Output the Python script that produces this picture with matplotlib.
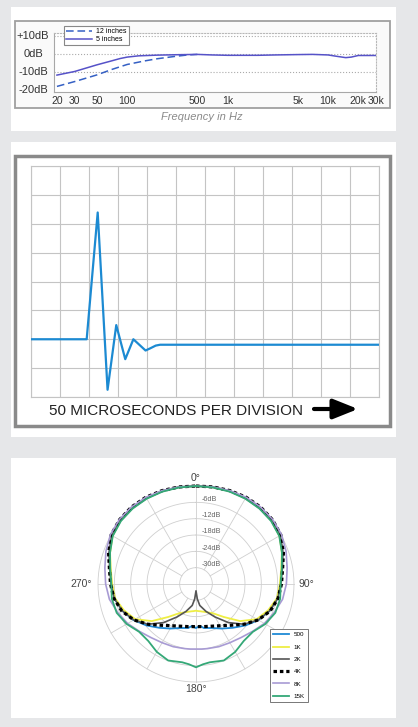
import numpy as np
import matplotlib
matplotlib.use('Agg')
import matplotlib.pyplot as plt
from matplotlib.patches import Rectangle
from matplotlib.transforms import blended_transform_factory

plt.rcParams['font.family'] = ['Liberation Sans', 'DejaVu Sans']

# --- frequency response (panel 1)
freq_5in = [20, 30, 50, 70, 85, 100, 130, 200, 300, 500, 700, 1000, 2000, 3000,
            5000, 7000, 10000, 12000, 15000, 17000, 20000, 30000]
db_5in = [-11.7, -9.7, -6.0, -3.8, -2.5, -1.7, -1.0, -0.6, -0.4, -0.2, -0.5, -0.7,
          -0.7, -0.5, -0.3, -0.2, -0.5, -1.2, -2.0, -1.7, -0.8, -0.8]
freq_12in = [20, 30, 50, 70, 100, 150, 200, 300, 400, 500]
db_12in = [-18.0, -15.3, -11.6, -8.6, -5.8, -3.8, -2.6, -1.3, -0.5, -0.2]
freq_ticks = [20, 30, 50, 100, 500, 1000, 5000, 10000, 20000, 30000]
freq_labels = ['20', '30', '50', '100', '500', '1k', '5k', '10k', '20k', '30k']
db_ticks = [10, 0, -10, -20]
db_labels = ['+10dB', '0dB', '-10dB', '-20dB']

# --- impulse response (panel 2), in grid divisions
imp_t = [0, 1.92, 2.3, 2.64, 2.94, 3.25, 3.53, 3.95, 4.1, 4.3, 4.45, 12]
imp_v = [2.0, 2.0, 6.39, 0.25, 2.49, 1.31, 2.0, 1.61, 1.68, 1.78, 1.81, 1.81]

# --- polar pattern (panel 3), dB vs angle 0..180, mirrored for 180..360
pol_angles = [0, 10, 20, 30, 40, 50, 60, 70, 80, 90, 100, 110, 120, 130, 140, 150, 160, 170, 175, 180]
pol_500 = [0, 0.1, 0.3, 0.4, 0.4, 0.2, -0.5, -2.2, -4.0, -5.0, -5.6, -7.2, -9.5, -12.3,
           -15.0, -17.1, -18.8, -19.6, -20.6, -19.8]
pol_1k = [0, 0.1, 0.3, 0.4, 0.4, 0.2, -0.6, -2.4, -4.2, -5.2, -5.8, -7.8, -10.2, -14.8,
          -20.2, -23.6, -25.0, -25.8, -26.0, -26.2]
pol_2k = [0, 0.2, 0.4, 0.6, 0.7, 0.5, -0.2, -2.0, -3.8, -4.8, -5.5, -7.2, -9.6, -13.0,
          -17.5, -22.0, -25.3, -28.0, -30.5, -33.5]
pol_4k = [0, 0.2, 0.5, 0.8, 0.9, 0.7, 0.0, -1.8, -3.7, -4.6, -5.4, -7.0, -9.6, -13.0,
          -16.2, -18.3, -19.5, -20.1, -20.3, -20.3]
pol_8k = [0, 0.2, 0.5, 0.8, 0.9, 0.8, 0.3, -0.8, -2.0, -2.8, -3.7, -5.4, -7.0, -8.9,
          -10.3, -11.1, -11.5, -11.9, -12.0, -12.1]
pol_15k = [0, 0.0, 0.1, 0.2, 0.2, 0.0, -0.7, -2.4, -4.0, -4.9, -4.6, -5.0, -6.6, -8.7,
           -8.7, -7.2, -6.1, -6.8, -6.4, -5.4]
pol_names = ['500', '1K', '2K', '4K', '8K', '15K']
ring_db = [-30, -24, -18, -12, -6, 0]

W, H = 418, 727


def box(x0, y0, x1, y1):
    return [x0 / W, 1 - y1 / H, (x1 - x0) / W, (y1 - y0) / H]


fig = plt.figure(figsize=(W / 100, H / 100), dpi=100, facecolor='#e6e7e9')

# white panels and frames
for x0, y0, x1, y1 in [(11, 7, 396, 131), (11, 142, 396, 437), (11, 458, 396, 718)]:
    b = box(x0, y0, x1, y1)
    fig.add_artist(Rectangle((b[0], b[1]), b[2], b[3], transform=fig.transFigure,
                             facecolor='white', edgecolor='none', zorder=-2))
b = box(15, 21, 390, 108)
fig.add_artist(Rectangle((b[0], b[1]), b[2], b[3], transform=fig.transFigure,
                         facecolor='#fafafa', edgecolor='#a0a0a0', lw=1.3, zorder=-1))
b = box(15, 156, 390, 426)
fig.add_artist(Rectangle((b[0], b[1]), b[2], b[3], transform=fig.transFigure,
                         facecolor='white', edgecolor='#8a8a8a', lw=2.5, zorder=-1))

# ---------------- panel 1
ax1 = fig.add_axes(box(54, 33, 376, 92))
ax1.set_facecolor('white')
ax1.set_xscale('log')
ax1.set_xlim(18.7, 30000)
ax1.set_ylim(-21.1, 11.7)
ax1.plot(freq_12in, db_12in, color='#3560c4', lw=1.1, ls=(0, (5, 2.5)), label='12 inches')
ax1.plot(freq_5in, db_5in, color='#5652c8', lw=1.1, label='5 inches')
for v in [10, 0, -10]:
    ax1.axhline(v, color='#aaaaaa', lw=0.8, ls=':', zorder=0)
ax1.set_xticks(freq_ticks)
ax1.set_xticklabels(freq_labels, fontsize=7.5, color='#333333')
ax1.xaxis.set_minor_locator(matplotlib.ticker.NullLocator())
ax1.tick_params(axis='x', length=0, pad=3)
ax1.set_yticks([])
tr = blended_transform_factory(fig.transFigure, ax1.transData)
for v, lab in zip(db_ticks, db_labels):
    ax1.text(33 / W, v, lab, transform=tr, ha='center', va='center', fontsize=8, color='#333333')
for s in ['left', 'bottom']:
    ax1.spines[s].set_color('#a8a8a8')
for s in ['top', 'right']:
    ax1.spines[s].set_color('#b8b8b8')
    ax1.spines[s].set_linestyle(':')
fig.text(202 / W, 1 - 117 / H, 'Frequency in Hz', ha='center', va='center',
         fontsize=8, style='italic', color='#8a8a8a')
leg1 = ax1.legend(loc='upper left', bbox_to_anchor=(64 / W, 1 - 26 / H),
                  bbox_transform=fig.transFigure, fontsize=5, frameon=True, fancybox=False,
                  edgecolor='#888888', framealpha=1, borderpad=0.3, labelspacing=0.15,
                  handlelength=3.8, handletextpad=0.5, borderaxespad=0)
leg1.get_frame().set_linewidth(0.8)

# ---------------- panel 2
ax2 = fig.add_axes(box(31, 166, 379, 397))
ax2.set_xlim(0, 12)
ax2.set_ylim(0, 8)
ax2.set_xticks(range(13))
ax2.set_yticks(range(9))
ax2.tick_params(length=0, labelbottom=False, labelleft=False)
ax2.grid(True, color='#c4c4c4', lw=0.8)
for s in ax2.spines.values():
    s.set_color('#c4c4c4')
    s.set_linewidth(0.8)
ax2.plot(imp_t, imp_v, color='#1c8ad2', lw=1.6, zorder=3)
fig.text(49 / W, 1 - 415 / H, '50 MICROSECONDS PER DIVISION', ha='left', va='baseline',
         fontsize=11, color='#222222')
ax2.annotate('', xy=(358, H - 409), xycoords='figure pixels',
             xytext=(314, H - 409), textcoords='figure pixels', annotation_clip=False,
             arrowprops=dict(arrowstyle='-|>,head_length=0.75,head_width=0.3',
                             lw=3.0, color='black', mutation_scale=20,
                             shrinkA=0, shrinkB=0))

# ---------------- panel 3
cx, cy, r0 = 196, 584, 98
rmax = r0 * 39 / 36
ax3 = fig.add_axes(box(cx - rmax, cy - rmax, cx + rmax, cy + rmax), projection='polar')
ax3.set_facecolor('none')
ax3.set_theta_zero_location('N')
ax3.set_theta_direction(-1)
ax3.set_ylim(-36, 3)
ax3.set_xticks([])
ax3.set_yticks([])
ax3.grid(False)
ax3.spines['polar'].set_visible(False)

th = np.linspace(0, 2 * np.pi, 361)
for v in ring_db:
    ax3.plot(th, np.full_like(th, v), color='#cfcfcf', lw=0.6, zorder=1)
for a in range(0, 360, 30):
    start = -36 if a % 90 == 0 else -30
    ax3.plot([np.radians(a)] * 2, [start, 0], color='#cfcfcf', lw=0.6, zorder=1)
for v in ring_db[:-1]:
    ax3.annotate('%ddB' % v, xy=(0, v), xytext=(4.3, 2.2), textcoords='offset points',
                 ha='left', va='center', fontsize=5.2, color='#666666')

ax3.text(0, 2.9, '0°', ha='center', va='center', fontsize=7.5, color='#444444')
ax3.text(np.pi / 2, 1.5, '90°', ha='left', va='center', fontsize=7.5, color='#444444')
ax3.text(np.pi, 2.6, '180°', ha='center', va='center', fontsize=7.5, color='#444444')
ax3.text(3 * np.pi / 2, 2.2, '270°', ha='right', va='center', fontsize=7.5, color='#444444')

ang = np.array(pol_angles, dtype=float)
full_ang = np.radians(np.concatenate([ang, 360 - ang[::-1][1:]]))
styles = [dict(color='#1f8ad6', lw=1.3),
          dict(color='#eeee44', lw=1.3),
          dict(color='#555555', lw=1.2),
          dict(color='black', lw=2.3, ls=(0, (1.1, 0.9))),
          dict(color='#a89bd4', lw=1.2),
          dict(color='#34a877', lw=1.3)]
for vals, name, st in zip([pol_500, pol_1k, pol_2k, pol_4k, pol_8k, pol_15k], pol_names, styles):
    v = np.array(vals)
    full_v = np.concatenate([v, v[::-1][1:]])
    ax3.plot(full_ang, full_v, label=name, zorder=3, **st)
leg3 = ax3.legend(loc='upper left', bbox_to_anchor=(270 / W, 1 - 629 / H),
                  bbox_transform=fig.transFigure, fontsize=4.5, frameon=True, fancybox=False,
                  edgecolor='#777777', framealpha=1, borderpad=0.5, labelspacing=1.1,
                  handlelength=2.5, handletextpad=0.8, borderaxespad=0)
leg3.get_frame().set_linewidth(0.7)

fig.savefig('out.png', dpi=100, facecolor=fig.get_facecolor())
